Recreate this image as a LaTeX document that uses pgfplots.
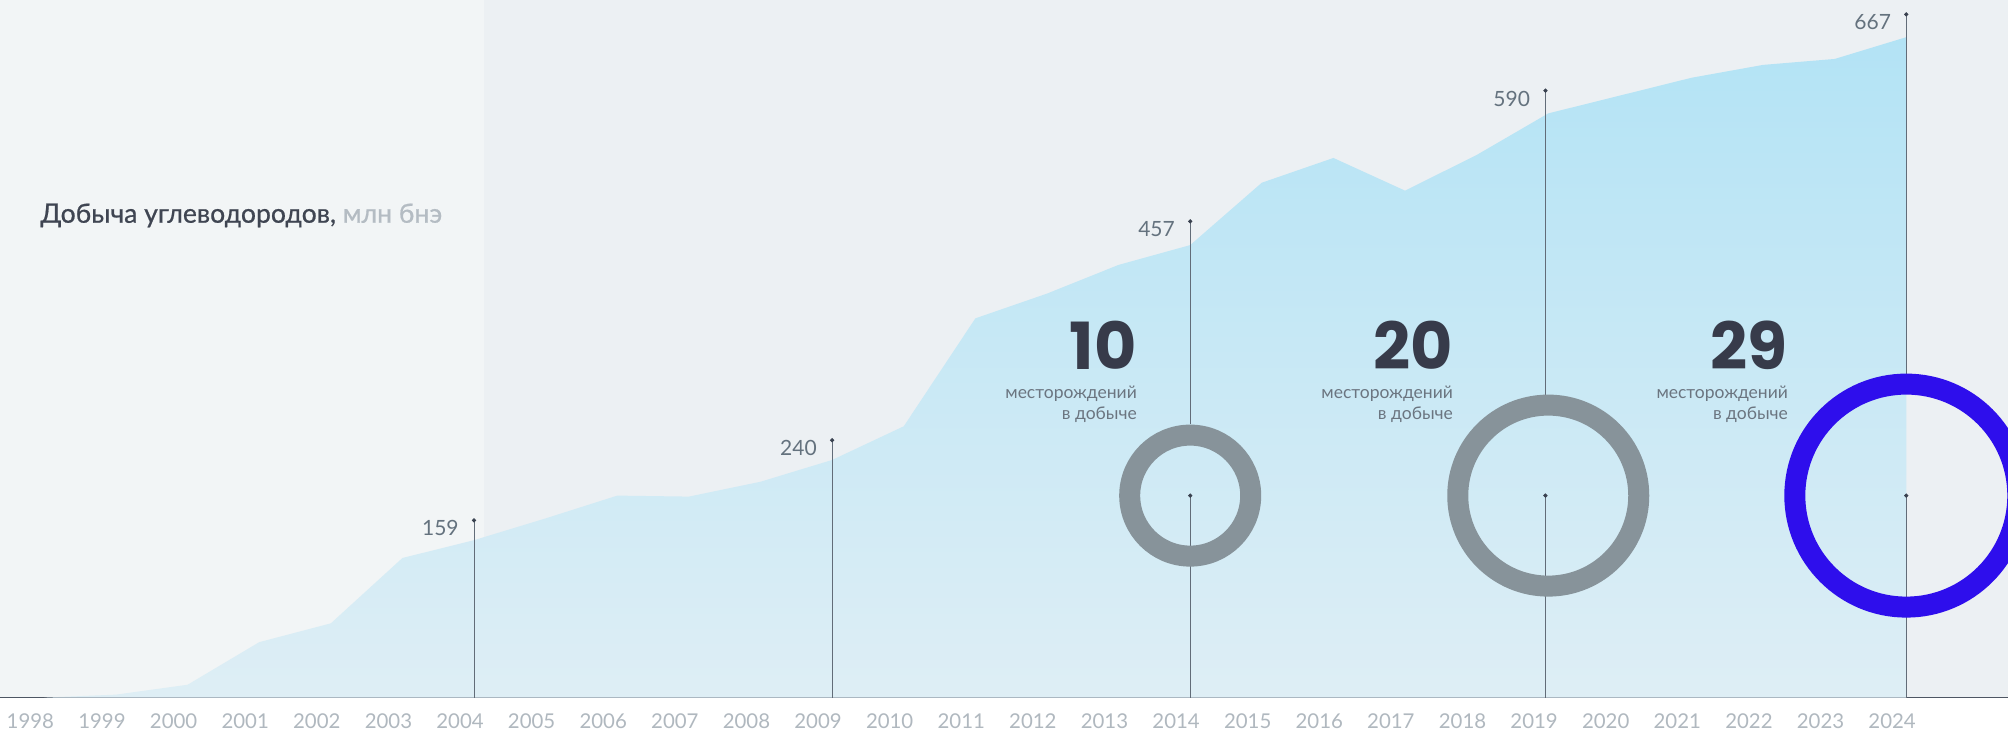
\documentclass[border=0pt]{standalone}
\usepackage{pgfplots}
\pgfplotsset{compat=1.18}
\usepackage{pgfplotstable}
\usepackage{fontspec}
\setmainfont{Lato}
\newfontfamily\pop{Poppins}
\newfontfamily\titlefont{Lato}[FakeBold=0.7]
\definecolor{bgmain}{RGB}{236,240,243}
\definecolor{bgleft}{RGB}{242,245,246}
\definecolor{areatop}{RGB}{179,227,245}
\definecolor{areabot}{RGB}{222,238,245}
\definecolor{vline}{RGB}{98,108,120}
\definecolor{dotc}{RGB}{58,66,80}
\definecolor{axisc}{RGB}{78,86,99}
\definecolor{yearc}{RGB}{176,184,191}
\definecolor{valc}{RGB}{100,114,126}
\definecolor{titlec}{RGB}{63,69,82}
\definecolor{unitc}{RGB}{180,188,195}
\definecolor{bignum}{RGB}{55,59,74}
\definecolor{subc}{RGB}{107,117,128}
\definecolor{ringgray}{RGB}{135,147,154}
\definecolor{ringblue}{RGB}{46,14,236}

\pgfplotstableread{
year val
1998 0
1999 3
2000 13
2001 56
2002 75
2003 141
2004 159
2005 181
2006 204
2007 203
2008 218
2009 240
2010 274
2011 383
2012 408
2013 437
2014 457
2015 520
2016 545
2017 512
2018 548
2019 590
2020 608
2021 626
2022 639
2023 645
2024 667
}\prodtable

\begin{document}
\begin{tikzpicture}
\useasboundingbox (0pt,0pt) rectangle (1004pt,366.5pt);
\clip (0pt,0pt) rectangle (1004pt,366.5pt);
\fill[white] (0pt,0pt) rectangle (1004pt,17.7pt);
\fill[bgmain] (0pt,17.7pt) rectangle (1004pt,366.5pt);
\fill[bgleft] (0pt,17.7pt) rectangle (242pt,366.5pt);
\begin{axis}[
  at={(0pt,17.7pt)}, anchor=south west,
  scale only axis, width=1004pt, height=346.55pt,
  xmin=1997.38, xmax=2025.42, ymin=0, ymax=700,
  axis x line=bottom, axis y line=none,
  x axis line style={draw=axisc, line width=0.9pt, -},
  xtick={1998,...,2024},
  major tick length=0pt,
  xticklabel style={font=\fontsize{10.2}{12}\selectfont, text=yearc, anchor=center, yshift=-11.7pt, xshift=-7pt},
  /pgf/number format/1000 sep={},
  /pgf/number format/assume math mode=true,
  clip=false,
]
\addplot[draw=none, top color=areatop, bottom color=areabot] table[x=year,y=val]{\prodtable} \closedcycle;

% rings (area proportional to number of fields)
\addplot[only marks, mark=o, mark size=30.25pt, mark options={draw=ringgray, line width=10.5pt}] coordinates {(2014,204)};
\addplot[only marks, mark=o, mark size=45.25pt, mark options={draw=ringgray, line width=10.5pt}] coordinates {(2019,204)};
\addplot[only marks, mark=o, mark size=55.75pt, mark options={draw=ringblue, line width=10.5pt}] coordinates {(2024,204)};

% vertical leader lines
\addplot[vline, line width=0.55pt] coordinates {(2004,0) (2004,179)};
\addplot[vline, line width=0.55pt] coordinates {(2009,0) (2009,260)};
\addplot[vline, line width=0.55pt] coordinates {(2014,276) (2014,481)};
\addplot[vline, line width=0.55pt] coordinates {(2014,0) (2014,204)};
\addplot[vline, line width=0.55pt] coordinates {(2018.96,306) (2018.96,613)};
\addplot[vline, line width=0.55pt] coordinates {(2018.96,0) (2018.96,204)};
\addplot[vline, line width=0.55pt] coordinates {(2024,327) (2024,690)};
\addplot[vline, line width=0.55pt] coordinates {(2024,0) (2024,204)};
\addplot[only marks, mark=*, mark size=0.85pt, dotc] coordinates {(2004,179)(2009,260)(2014,481)(2018.96,613)(2024,690)(2014,204)(2018.96,204)(2024,204)};

% value labels
\node[anchor=north east, inner sep=0pt, font=\fontsize{10.5}{12}\selectfont, text=valc, xshift=-7.5pt] at (axis cs:2004,179) {159};
\node[anchor=north east, inner sep=0pt, font=\fontsize{10.5}{12}\selectfont, text=valc, xshift=-7.5pt] at (axis cs:2009,260) {240};
\node[anchor=north east, inner sep=0pt, font=\fontsize{10.5}{12}\selectfont, text=valc, xshift=-7.5pt] at (axis cs:2014,481) {457};
\node[anchor=north east, inner sep=0pt, font=\fontsize{10.5}{12}\selectfont, text=valc, xshift=-7.5pt] at (axis cs:2018.96,613) {590};
\node[anchor=north east, inner sep=0pt, font=\fontsize{10.5}{12}\selectfont, text=valc, xshift=-7.5pt] at (axis cs:2024,690) {667};

% big numbers
\node[anchor=east, inner sep=0pt, font=\pop\bfseries\fontsize{32.5}{32.5}\selectfont, text=bignum, xshift=-26.5pt] at (axis cs:2014,356) {10};
\node[anchor=base east, inner sep=0pt, font=\fontsize{8.75}{10}\selectfont, text=subc, xshift=-26.5pt] at (axis cs:2014,301.6) {месторождений};
\node[anchor=base east, inner sep=0pt, font=\fontsize{8.75}{10}\selectfont, text=subc, xshift=-26.5pt] at (axis cs:2014,280.4) {в добыче};

\node[anchor=east, inner sep=0pt, font=\pop\bfseries\fontsize{32.5}{32.5}\selectfont, text=bignum, xshift=-47.5pt] at (axis cs:2019,356) {20};
\node[anchor=base east, inner sep=0pt, font=\fontsize{8.75}{10}\selectfont, text=subc, xshift=-47.5pt] at (axis cs:2019,301.6) {месторождений};
\node[anchor=base east, inner sep=0pt, font=\fontsize{8.75}{10}\selectfont, text=subc, xshift=-47.5pt] at (axis cs:2019,280.4) {в добыче};

\node[anchor=east, inner sep=0pt, font=\pop\bfseries\fontsize{32.5}{32.5}\selectfont, text=bignum, xshift=-59pt] at (axis cs:2024,356) {29};
\node[anchor=base east, inner sep=0pt, font=\fontsize{8.75}{10}\selectfont, text=subc, xshift=-59pt] at (axis cs:2024,301.6) {месторождений};
\node[anchor=base east, inner sep=0pt, font=\fontsize{8.75}{10}\selectfont, text=subc, xshift=-59pt] at (axis cs:2024,280.4) {в добыче};

% title
\node[anchor=base west, inner sep=0pt, font=\titlefont\fontsize{13.3}{15}\selectfont] at (axis cs:1997.94,479.6) {\textcolor{titlec}{Добыча углеводородов,} \textcolor{unitc}{млн бнэ}};
\end{axis}
\end{tikzpicture}
\end{document}
